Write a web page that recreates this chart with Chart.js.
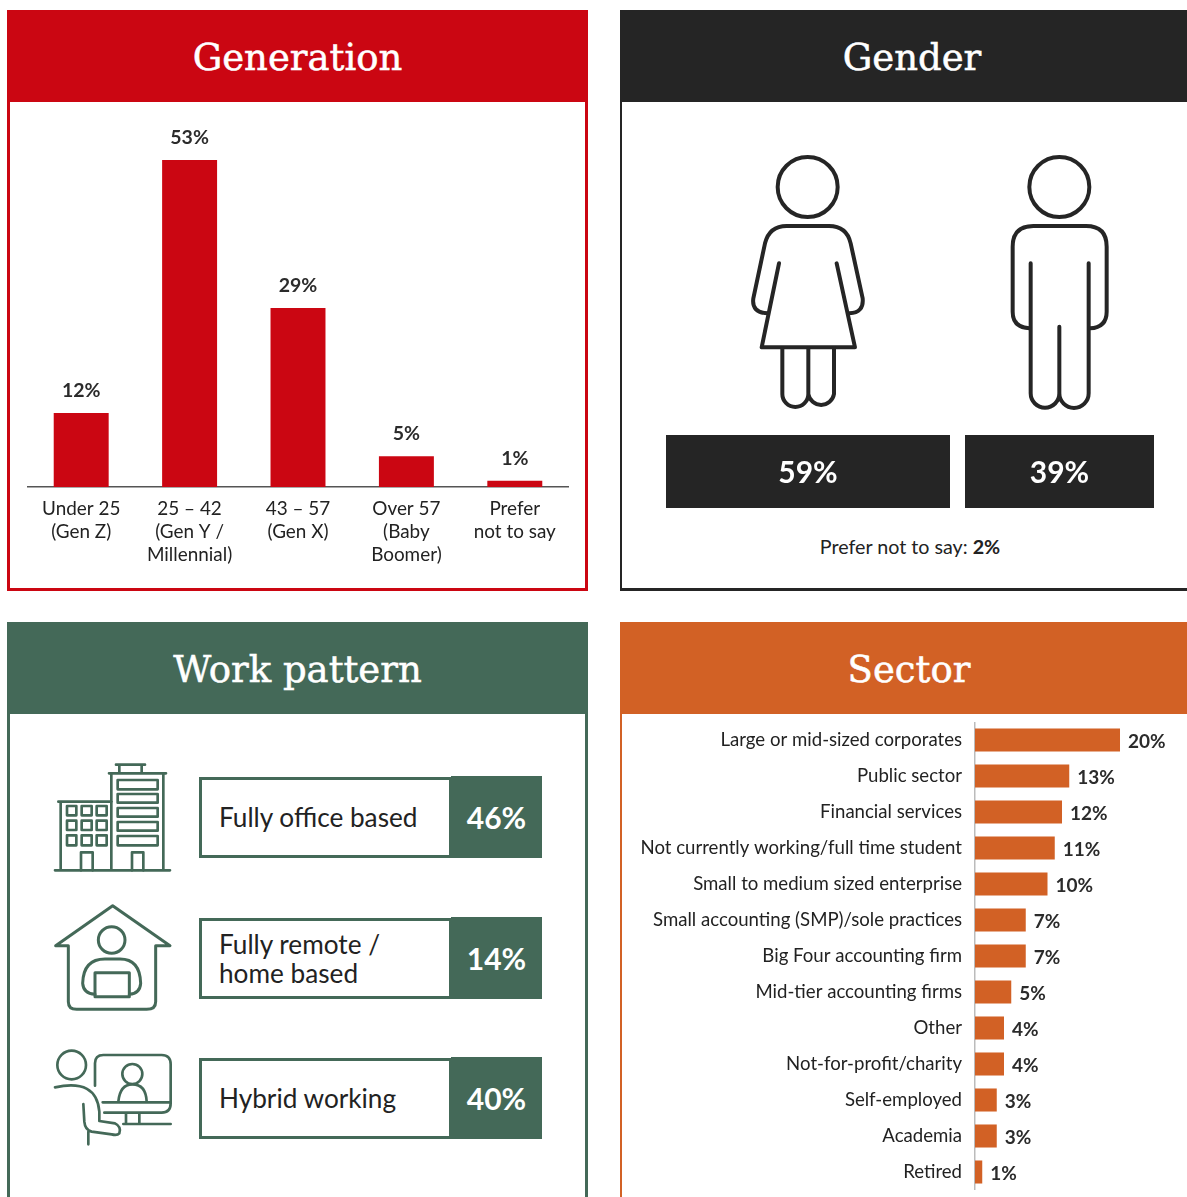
<!DOCTYPE html>
<html>
<head>
<meta charset="utf-8">
<script src="https://cdn.jsdelivr.net/npm/chart.js@4"></script>
<style>
html,body{margin:0;padding:0;background:#fff;width:1187px;height:1197px;overflow:hidden}
body{position:relative;font-family:Lato,sans-serif;color:#222}
.abs{position:absolute;display:block}
.panel{position:absolute;box-sizing:border-box;background:#fff;border-style:solid;border-width:0 3px 3px 3px}
.head{position:absolute;left:-3px;top:0;height:92px;color:#fff;text-align:center;font:400 37px/95px "DejaVu Serif",serif;-webkit-text-stroke:0.5px #fff}
.box{position:absolute;box-sizing:border-box;left:199px;width:253px;height:82px;border:3px solid #446958;font-size:26.2px;line-height:28.5px;display:flex;align-items:center;padding-left:17px;background:#fff}
.pct{position:absolute;left:451px;width:91px;height:82px;background:#446958;color:#fff;font-weight:700;font-size:30px;line-height:82px;text-align:center}
svg{position:absolute;fill:none;stroke-linecap:round;stroke-linejoin:round}
#gnote{position:absolute;left:620px;width:580px;top:535px;text-align:center;font-size:19.7px;line-height:23px}
</style>
</head>
<body>
<div class="panel" style="left:7px;top:10px;width:581px;height:581px;border-color:#CB0612"><div class="head" style="width:581px;background:#CB0612">Generation</div></div>
<div class="panel" style="left:620px;top:10px;width:584px;height:581px;border-color:#252525;border-left-width:2px"><div class="head" style="left:-2px;width:584px;background:#252525">Gender</div></div>
<div class="panel" style="left:7px;top:622px;width:581px;height:600px;border-color:#446958"><div class="head" style="width:581px;background:#446958">Work pattern</div></div>
<div class="panel" style="left:620px;top:622px;width:578px;height:600px;border-color:#D26125;border-left-width:2px"><div class="head" style="left:-2px;width:578px;background:#D26125">Sector</div></div>

<canvas id="genChart" class="abs" style="left:27px;top:110px" width="542" height="470"></canvas>
<canvas id="gF" class="abs" style="left:666px;top:435px" width="284" height="73"></canvas>
<canvas id="gM" class="abs" style="left:965px;top:435px" width="189" height="73"></canvas>
<div id="gnote"></div>
<canvas id="secChart" class="abs" style="left:625px;top:722px" width="562" height="468"></canvas>

<!-- gender icons -->
<svg style="left:730px;top:140px" width="400" height="280" viewBox="0 0 1200 840" stroke="#252525" stroke-width="12">
<circle cx="233" cy="141" r="90"/>
<path d="M113 520Q64 518 70 475L105 310Q118 258 170 258H297Q350 258 362 310L398 475Q402 518 358 520"/>
<path d="M147 370L95 622H375L320 370"/>
<path d="M157 625V762A39 39 0 0 0 235 762A39 39 0 0 0 312 762V625M235 625V762"/>
<circle cx="988" cy="141" r="90"/>
<path d="M898 565Q848 562 848 515V320Q848 258 910 258H1068Q1130 258 1130 320V515Q1130 562 1080 565"/>
<path d="M902 370V760A43 43 0 0 0 988 760A44 44 0 0 0 1076 760V370M988 560V760"/>
</svg>
<!-- building -->
<svg style="left:40px;top:750px" width="240" height="140" viewBox="0 0 720 420" stroke="#446958" stroke-width="8">
<path d="M45 361H390M62 361V155M55 155H215M214 361V70M370 361V70M207 70H378M238 70V44H305V70M228 44H315"/>
<rect x="233" y="90" width="120" height="28"/><rect x="233" y="132" width="120" height="26"/><rect x="233" y="174" width="120" height="26"/><rect x="233" y="216" width="120" height="26"/><rect x="233" y="258" width="120" height="28"/>
<rect x="81" y="168" width="28" height="28"/><rect x="125" y="168" width="30" height="28"/><rect x="170" y="168" width="30" height="28"/>
<rect x="81" y="212" width="28" height="28"/><rect x="125" y="212" width="30" height="28"/><rect x="170" y="212" width="30" height="28"/>
<rect x="81" y="256" width="28" height="30"/><rect x="125" y="256" width="30" height="30"/><rect x="170" y="256" width="30" height="30"/>
<path d="M123 361V307H158V361M276 361V307H310V361"/>
</svg>
<!-- house -->
<svg style="left:40px;top:895px" width="240" height="125" viewBox="0 0 720 375" stroke="#446958" stroke-width="9">
<path d="M85 152H47L218 32L390 152H347V320Q347 343 320 343H110Q85 343 85 320Z"/>
<circle cx="215" cy="135" r="40"/>
<path d="M165 298Q130 295 128 265Q130 192 195 192H240Q300 192 302 265Q300 295 268 298"/>
<rect x="165" y="233" width="103" height="72"/>
</svg>
<!-- hybrid -->
<svg style="left:40px;top:1035px" width="240" height="125" viewBox="0 0 720 375" stroke="#446958" stroke-width="8">
<circle cx="95" cy="90" r="43"/>
<path d="M45 157Q170 130 178 230V258L225 265Q245 275 238 295Q232 302 215 298L155 290Q135 285 133 260L130 207M145 290V328"/>
<path d="M165 152V85Q165 60 190 60H365Q392 60 392 88V205Q392 233 365 233H193M188 202H390"/>
<circle cx="277" cy="117" r="30"/>
<path d="M235 200Q240 148 277 148Q318 148 320 200M258 235V267M298 235V267M250 267H392"/>
</svg>
<div id="work"></div>

<script>
const genCategories = [["Under 25","(Gen Z)"],["25 – 42","(Gen Y /","Millennial)"],["43 – 57","(Gen X)"],["Over 57","(Baby","Boomer)"],["Prefer","not to say"]];
const genValues = [12,53,29,5,1];
const genderLabels = ["Female","Male"];
const genderValues = [59,39];
const genderOther = 2;
const workLabels = [["Fully office based"],["Fully remote /","home based"],["Hybrid working"]];
const workValues = [46,14,40];
const sectorLabels = ["Large or mid-sized corporates","Public sector","Financial services","Not currently working/full time student","Small to medium sized enterprise","Small accounting (SMP)/sole practices","Big Four accounting firm","Mid-tier accounting firms","Other","Not-for-profit/charity","Self-employed","Academia","Retired"];
const sectorValues = [20,13,12,11,10,7,7,5,4,4,3,3,1];

const RED="#CB0612",DARK="#252525",ORANGE="#D26125",TEXT="#222222",LAB="#2b2b2b";
const FONT="Lato, sans-serif";

document.getElementById('gnote').innerHTML='Prefer not to say: <b>'+genderOther+'%</b>';
const workTops=[776,917,1057];
document.getElementById('work').innerHTML=workLabels.map((l,i)=>
 '<div class="box" style="top:'+(workTops[i]+1)+'px;height:81px"><div>'+l.join('<br>')+'</div></div>'+
 '<div class="pct" style="top:'+workTops[i]+'px">'+workValues[i]+'%</div>').join('');

// Value labels read from the chart's own elements
const endLabels={id:'endLabels',afterDatasetsDraw(c,a,o){
  const ctx=c.ctx,m=c.getDatasetMeta(0);ctx.save();
  ctx.font=o.font;ctx.fillStyle=o.color;ctx.textBaseline='middle';
  m.data.forEach((b,i)=>{
    const t=c.data.datasets[0].data[i]+'%';
    if(o.mode==='top'){ctx.textAlign='center';ctx.fillText(t,b.x,b.y-o.gap);}
    else if(o.mode==='right'){ctx.textAlign='left';ctx.fillText(t,b.x+o.gap,b.y+o.dy);}
    else{ctx.textAlign='center';ctx.fillText(t,(b.x+b.base)/2,b.y+o.dy);}
  });ctx.restore();}};

Chart.defaults.animation=false;
Chart.defaults.responsive=false;
Chart.defaults.font.family=FONT;

new Chart(document.getElementById('genChart'),{type:'bar',plugins:[endLabels],
 data:{labels:genCategories,datasets:[{data:genValues,backgroundColor:RED,barPercentage:0.507,categoryPercentage:1}]},
 options:{plugins:{legend:{display:false},tooltip:{enabled:false},endLabels:{mode:'top',gap:22,font:'700 19.5px '+FONT,color:LAB}},
  scales:{y:{display:false,min:0,max:61.1},
   x:{afterFit(s){s.height=93},grid:{display:false,drawTicks:false},border:{display:true,color:'#555',width:1.5},
      ticks:{padding:10,color:TEXT,maxRotation:0,autoSkip:false,font:{size:18.9,lineHeight:1.22}}}}}});

[['gF',0],['gM',1]].forEach(([id,i])=>new Chart(document.getElementById(id),{type:'bar',plugins:[endLabels],
 data:{labels:[genderLabels[i]],datasets:[{data:[genderValues[i]],backgroundColor:DARK,barPercentage:1,categoryPercentage:1}]},
 options:{indexAxis:'y',plugins:{legend:{display:false},tooltip:{enabled:false},endLabels:{mode:'mid',dy:2,font:'700 30px '+FONT,color:'#fff'}},
  scales:{x:{display:false,min:0,max:genderValues[i]},y:{display:false}}}}));

new Chart(document.getElementById('secChart'),{type:'bar',plugins:[endLabels],
 data:{labels:sectorLabels,datasets:[{data:sectorValues,backgroundColor:ORANGE,barPercentage:0.64,categoryPercentage:1}]},
 options:{indexAxis:'y',plugins:{legend:{display:false},tooltip:{enabled:false},endLabels:{mode:'right',gap:8,dy:2,font:'700 19px '+FONT,color:LAB}},
  scales:{x:{display:false,min:0,max:29.24},
   y:{afterFit(s){s.width=350;s.paddingTop=0;s.paddingBottom=0},grid:{display:false,drawTicks:false},border:{display:true,color:'#bbb',width:1.5},
      ticks:{padding:13,color:TEXT,autoSkip:false,font:{size:18.6}}}}}});
</script>
</body>
</html>
